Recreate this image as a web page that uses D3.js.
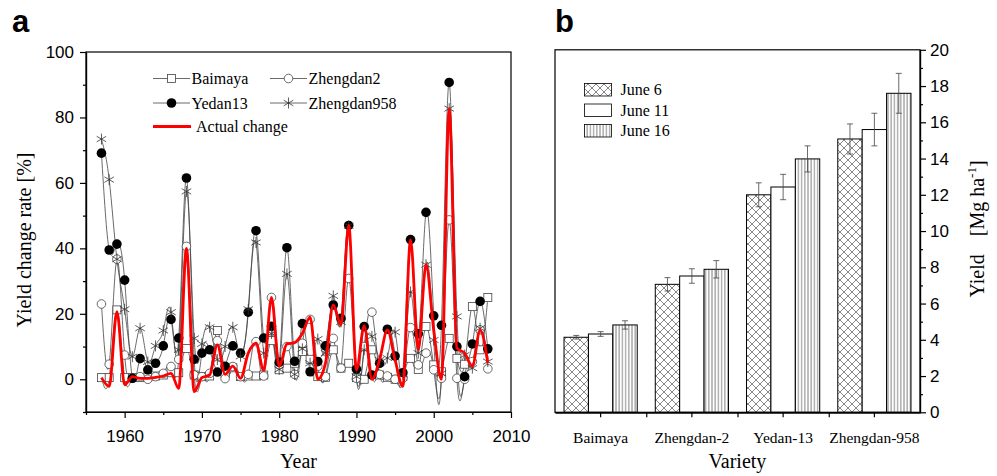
<!DOCTYPE html>
<html>
<head>
<meta charset="utf-8">
<script src="https://cdn.jsdelivr.net/npm/d3@7/dist/d3.min.js"></script>
<style>
body { margin: 0; background: #fff; }
.serif { font-family: "Liberation Serif", "Times New Roman", serif; }
.sans { font-family: "Liberation Sans", Arial, sans-serif; }
</style>
</head>
<body>
<svg id="chart" width="997" height="476"></svg>
<script>
// ---- panel a data : yield change rate (%) per year ----
var years = [1957,1958,1959,1960,1961,1962,1963,1964,1965,1966,1967,1968,1969,1970,1971,1972,1973,1974,1975,1976,1977,1978,1979,1980,1981,1982,1983,1984,1985,1986,1987,1988,1989,1990,1991,1992,1993,1994,1995,1996,1997,1998,1999,2000,2001,2002,2003,2004,2005,2006,2007];
var baimaya = [0.5,0.5,21.2,0.5,0.5,0.5,0.8,1.0,1.3,2.0,2.0,9.4,1.3,0.8,1.0,14.9,1.8,3.5,0.8,1.0,1.0,1.3,11.8,2.9,3.4,4.9,8.5,6.1,0.8,0.6,9.0,3.4,4.9,0.5,0.0,9.0,1.3,0.6,0.0,0.8,6.4,3.0,16.1,4.4,2.3,12.5,6.4,4.6,22.2,9.0,25.0];
var zhengdan2 = [23.0,4.6,36.7,7.4,0.3,0.8,0.0,0.8,1.8,3.9,6.1,40.6,1.3,0.8,1.8,11.8,0.2,3.9,0.8,1.5,11.5,1.0,25.0,4.4,10.0,1.5,11.0,18.3,4.0,0.8,12.5,3.4,30.8,0.3,10.0,20.5,1.5,1.0,0.0,0.3,15.8,4.4,8.0,2.9,0.3,48.7,0.3,0.0,5.4,15.1,3.2];
var yedan13 = [69.1,39.5,41.3,30.3,0.3,6.3,2.9,4.9,10.2,18.3,12.6,61.5,6.1,8.0,9.0,2.2,4.0,10.2,8.0,20.5,45.4,12.6,16.2,5.2,40.2,5.5,17.0,2.3,5.4,10.2,22.7,18.6,47.0,3.1,16.1,1.3,4.9,15.3,7.1,2.0,42.7,13.9,51.0,19.4,16.5,90.7,10.0,0.8,10.8,23.8,9.3];
var zhengdan958 = [73.4,61.0,36.7,21.4,6.9,15.6,5.3,10.2,14.9,20.5,9.0,57.4,12.5,10.8,15.9,6.0,10.0,15.9,7.0,21.4,41.8,8.0,14.0,3.0,32.2,1.5,9.3,4.9,12.3,8.0,25.5,17.5,46.9,0.8,9.0,13.1,5.9,6.5,14.4,1.5,26.7,8.0,35.0,12.0,1.8,82.7,19.2,7.4,3.4,15.6,5.4];
var actualChange = [0.5,-2.2,20.7,-1.7,0.8,0.3,0.3,0.6,1.0,1.8,-2.8,40.0,-3.8,0.5,1.3,10.5,1.5,4.0,0.3,8.0,11.0,2.7,25.0,4.0,10.8,11.2,14.0,19.0,0.0,5.0,22.7,16.6,47.0,2.9,16.3,0.0,6.0,15.1,5.9,-2.2,42.6,9.0,35.0,15.0,0.0,82.7,9.5,8.0,4.0,15.0,5.0];
var yearTicks = [1960,1970,1980,1990,2000,2010];
var rateTicks = [0,20,40,60,80,100];

// ---- panel b data : yield (Mg ha-1) by variety and sowing date ----
var varieties = ["Baimaya","Zhengdan-2","Yedan-13","Zhengdan-958"];
var sowDates = ["June 6","June 11","June 16"];
var yieldJune6 = [4.14,7.06,12.0,15.08];
var yieldJune11 = [4.32,7.52,12.43,15.6];
var yieldJune16 = [4.82,7.89,13.98,17.6];
var errJune6 = [0.1,0.37,0.66,0.83];
var errJune11 = [0.13,0.4,0.7,0.9];
var errJune16 = [0.23,0.48,0.72,1.1];
var yieldTicks = [0,2,4,6,8,10,12,14,16,18,20];

var svg = d3.select("#chart");
var defs = svg.append("defs");

// hatch patterns
var cross = defs.append("pattern").attr("id","cross")
	.attr("patternUnits","userSpaceOnUse").attr("width",8).attr("height",8);
cross.append("rect").attr("width",8).attr("height",8).attr("fill","#fff");
cross.append("path").attr("d","M0,0L8,8M8,0L0,8M-1,7L1,9M7,-1L9,1")
	.attr("stroke","#555").attr("stroke-width",0.7);
var vlines = defs.append("pattern").attr("id","vlines")
	.attr("patternUnits","userSpaceOnUse").attr("width",3.2).attr("height",10);
vlines.append("rect").attr("width",3.2).attr("height",10).attr("fill","#fff");
vlines.append("line").attr("x1",1.6).attr("x2",1.6).attr("y1",0).attr("y2",10)
	.attr("stroke","#555").attr("stroke-width",0.8);
var fills = ["url(#cross)","#fff","url(#vlines)"];

defs.append("clipPath").attr("id","clipA").append("rect")
	.attr("x",86).attr("y",52).attr("width",425).attr("height",360);

// ================= panel a =================
var xA = d3.scaleLinear().domain([1955,2010]).range([86,511]);
var yA = d3.scaleLinear().domain([-10,100]).range([412,52]);

var gA = svg.append("g");

gA.append("g").attr("transform","translate(0,412)")
	.call(d3.axisBottom(xA).tickValues([1955,1965,1975,1985,1995,2005]).tickSize(3).tickFormat("").tickSizeOuter(0));
gA.append("g").attr("class","sans").attr("transform","translate(0,412)")
	.call(d3.axisBottom(xA).tickValues(yearTicks).tickSize(6).tickPadding(12).tickFormat(d3.format("d")).tickSizeOuter(0));
gA.append("g").attr("transform","translate(86,0)")
	.call(d3.axisLeft(yA).tickValues([-10,10,30,50,70,90]).tickSize(3).tickFormat("").tickSizeOuter(0));
gA.append("g").attr("class","sans").attr("transform","translate(86,0)")
	.call(d3.axisLeft(yA).tickValues(rateTicks).tickSize(6).tickPadding(6).tickSizeOuter(0));
gA.selectAll(".tick text").attr("font-size",17).attr("font-family","Liberation Sans, Arial, sans-serif");
gA.selectAll("path.domain, .tick line").attr("stroke","#000").attr("stroke-width",1.2);

gA.append("rect").attr("x",86).attr("y",52).attr("width",425).attr("height",360)
	.attr("fill","none").attr("stroke","#000").attr("stroke-width",1.2);

var lineA = function (vals, curve) {
	return d3.line()
		.x(function (d, i) { return xA(years[i]); })
		.y(function (d) { return yA(d); })
		.curve(curve)(vals);
};

function markerPath(type, s) {
	if (type == "star") {
		var a = s * 0.866, b = s * 0.5;
		return "M0," + (-s) + "L0," + s + "M" + (-a) + "," + (-b) + "L" + a + "," + b + "M" + (-a) + "," + b + "L" + a + "," + (-b);
	}
	return null;
}

function drawMarkers(g, type, cx, cy) {
	if (type == "square") {
		g.append("rect").attr("x",cx-4).attr("y",cy-4).attr("width",8).attr("height",8)
			.attr("fill","#fff").attr("stroke","#444").attr("stroke-width",0.8);
	} else if (type == "circle") {
		g.append("circle").attr("cx",cx).attr("cy",cy).attr("r",4.3)
			.attr("fill","#fff").attr("stroke","#444").attr("stroke-width",0.8);
	} else if (type == "dot") {
		g.append("circle").attr("cx",cx).attr("cy",cy).attr("r",4.8).attr("fill","#000");
	} else {
		g.append("path").attr("transform","translate(" + cx + "," + cy + ")")
			.attr("d",markerPath("star",5.5)).attr("fill","none")
			.attr("stroke","#333").attr("stroke-width",0.8);
	}
}

var series = [
	{ name: "Baimaya", vals: baimaya, marker: "square" },
	{ name: "Zhengdan2", vals: zhengdan2, marker: "circle" },
	{ name: "Yedan13", vals: yedan13, marker: "dot" },
	{ name: "Zhengdan958", vals: zhengdan958, marker: "star" }
];

var plotA = gA.append("g").attr("clip-path","url(#clipA)");
series.forEach(function (s) {
	plotA.append("path").attr("d", lineA(s.vals, d3.curveNatural))
		.attr("fill","none").attr("stroke","#444").attr("stroke-width",0.8);
});
series.forEach(function (s) {
	var mg = plotA.append("g");
	s.vals.forEach(function (v, i) { drawMarkers(mg, s.marker, xA(years[i]), yA(v)); });
});
plotA.append("path").attr("d", lineA(actualChange, d3.curveMonotoneX))
	.attr("fill","none").attr("stroke","#f00").attr("stroke-width",2.8);

// legend a
var legA = gA.append("g").attr("class","serif").attr("font-size",16);
var legItems = [
	{ s: series[0], x: 153, y: 78.5 },
	{ s: series[1], x: 270, y: 78.5 },
	{ s: series[2], x: 153, y: 103 },
	{ s: series[3], x: 270, y: 103 }
];
legItems.forEach(function (d) {
	legA.append("line").attr("x1",d.x).attr("x2",d.x+37).attr("y1",d.y).attr("y2",d.y)
		.attr("stroke","#444").attr("stroke-width",0.8);
	drawMarkers(legA, d.s.marker, d.x+18.5, d.y);
	legA.append("text").attr("x",d.x+38.5).attr("y",d.y+5.5).text(d.s.name);
});
legA.append("line").attr("x1",153).attr("x2",191).attr("y1",126.5).attr("y2",126.5)
	.attr("stroke","#f00").attr("stroke-width",2.8);
legA.append("text").attr("x",196).attr("y",132).text("Actual change");

svg.append("text").attr("class","serif").attr("font-size",20)
	.attr("x",xA(1982.5)).attr("y",468).attr("text-anchor","middle").text("Year");
svg.append("text").attr("class","serif").attr("font-size",20)
	.attr("transform","translate(31,240) rotate(-90)").attr("text-anchor","middle")
	.text("Yield change rate [%]");
svg.append("text").attr("class","sans").attr("font-size",31).attr("font-weight","bold")
	.attr("x",12).attr("y",32).text("a");

// ================= panel b =================
var xB = d3.scaleBand().domain(varieties).range([555,920]).padding(0);
var xSub = d3.scaleBand().domain(sowDates).range([0,73.2]).padding(0);
var yB = d3.scaleLinear().domain([0,20]).range([412.3,49.8]);
var yieldSets = [yieldJune6, yieldJune11, yieldJune16];
var errSets = [errJune6, errJune11, errJune16];

var gB = svg.append("g");
var barOffset = (xB.bandwidth() - 73.2) / 2;

varieties.forEach(function (v, vi) {
	sowDates.forEach(function (sd, si) {
		var val = yieldSets[si][vi];
		var bx = xB(v) + barOffset + xSub(sd);
		gB.append("rect").attr("x",bx).attr("y",yB(val))
			.attr("width",xSub.bandwidth()).attr("height",yB(0)-yB(val))
			.attr("fill",fills[si]).attr("stroke","#000").attr("stroke-width",1);
	});
});
varieties.forEach(function (v, vi) {
	sowDates.forEach(function (sd, si) {
		var val = yieldSets[si][vi], e = errSets[si][vi];
		var cx = xB(v) + barOffset + xSub(sd) + xSub.bandwidth() / 2;
		gB.append("path")
			.attr("d","M" + cx + "," + yB(val - e) + "V" + yB(val + e) +
				"M" + (cx - 3) + "," + yB(val + e) + "H" + (cx + 3) +
				"M" + (cx - 3) + "," + yB(val - e) + "H" + (cx + 3))
			.attr("stroke","#444").attr("stroke-width",0.8).attr("fill","none");
	});
});

gB.append("rect").attr("x",555).attr("y",49.8).attr("width",365).attr("height",362.5)
	.attr("fill","none").attr("stroke","#000").attr("stroke-width",1.2);

var axB = gB.append("g").attr("class","serif").attr("transform","translate(0,412.3)")
	.call(d3.axisBottom(xB).tickSize(5).tickPadding(15).tickSizeOuter(0));
axB.selectAll("text").attr("font-size",15.5).attr("font-family","Liberation Serif, Times New Roman, serif");
gB.append("g").attr("transform","translate(0,412.3)")
	.call(d3.axisBottom(d3.scaleLinear().domain([0,4]).range([555,920]))
		.tickValues([1,2,3]).tickSize(5).tickFormat("").tickSizeOuter(0));
gB.append("g").attr("transform","translate(920,0)")
	.call(d3.axisRight(yB).tickValues([1,3,5,7,9,11,13,15,17,19]).tickSize(3).tickFormat("").tickSizeOuter(0));
var ayB = gB.append("g").attr("transform","translate(920,0)")
	.call(d3.axisRight(yB).tickValues(yieldTicks).tickSize(6).tickPadding(4).tickSizeOuter(0));
ayB.selectAll("text").attr("font-size",17).attr("font-family","Liberation Sans, Arial, sans-serif");
gB.selectAll("path.domain, .tick line").attr("stroke","#000").attr("stroke-width",1.2);

// legend b
var legB = gB.append("g").attr("class","serif").attr("font-size",16);
sowDates.forEach(function (sd, si) {
	var ly = 83.5 + si * 20.5;
	legB.append("rect").attr("x",584.5).attr("y",ly).attr("width",27).attr("height",12.5)
		.attr("fill",fills[si]).attr("stroke","#000").attr("stroke-width",0.8);
	legB.append("text").attr("x",620.5).attr("y",ly+11.5).text(sd);
});

svg.append("text").attr("class","serif").attr("font-size",20)
	.attr("x",737.5).attr("y",468).attr("text-anchor","middle").text("Variety");
var yl = svg.append("text").attr("class","serif").attr("font-size",20)
	.attr("transform","translate(984,229) rotate(-90)").attr("text-anchor","middle");
yl.append("tspan").text("Yield");
yl.append("tspan").attr("dx",18).text("[Mg ha");
yl.append("tspan").attr("dy",-8).attr("font-size",13).text("-1");
yl.append("tspan").attr("dy",8).text("]");
svg.append("text").attr("class","sans").attr("font-size",31).attr("font-weight","bold")
	.attr("x",555).attr("y",32).text("b");
</script>
</body>
</html>
